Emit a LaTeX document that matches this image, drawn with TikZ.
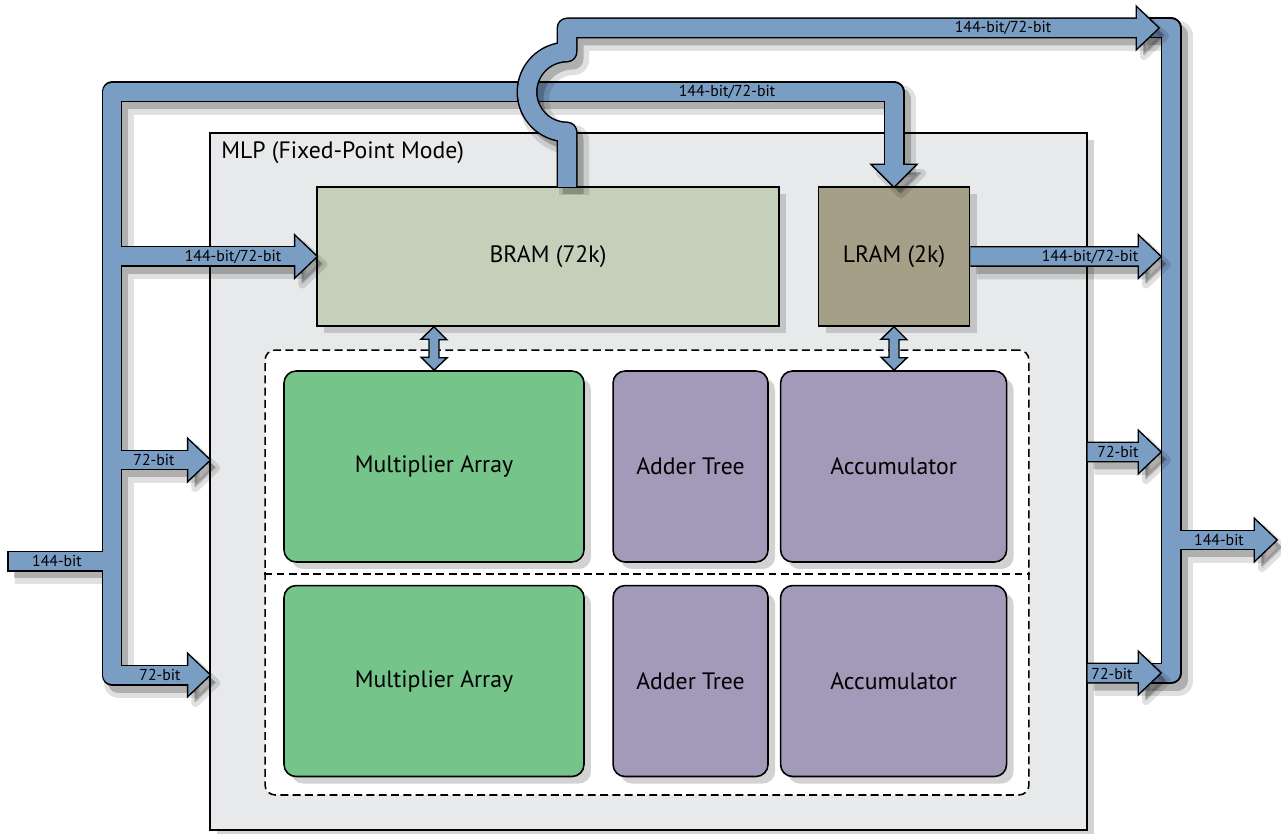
\documentclass[tikz,border=0pt]{standalone}
\usepackage{fontspec}
\setmainfont{PT Sans}
\usepackage{tikz}
\usetikzlibrary{calc, positioning, shadows}
\definecolor{busblue}{HTML}{7A9DC4}
\definecolor{mlpgray}{HTML}{E8E9EA}
\definecolor{bramgreen}{HTML}{C5D0BB}
\definecolor{lramtaupe}{HTML}{A59F87}
\definecolor{multgreen}{HTML}{75C489}
\definecolor{unitpurple}{HTML}{A39ABA}
\tikzset{
	font = \fontsize{13.5}{16}\selectfont,
	block/.style={
		draw,
		line width=.9pt,
		inner sep=0pt,
		drop shadow={shadow xshift=.14cm, shadow yshift=-.14cm, opacity=.35}
	},
	unit/.style={
		block,
		rounded corners=.24cm,
		minimum height=3.82cm
	},
	frame/.style={
		draw,
		dash pattern=on 4.5pt off 2.5pt,
		line width=.9pt,
		fill=white,
		rounded corners=.2cm
	},
	link/.style={
		draw,
		fill=busblue,
		line width=.8pt
	},
	pipe halo/.style={
		draw=black,
		opacity=.12,
		line width=.6cm,
		line join=round,
		transform canvas={xshift=.14cm, yshift=-.16cm}
	},
	pipe shadow/.style={
		draw=black,
		opacity=.22,
		line width=.42cm,
		line join=round,
		transform canvas={xshift=.12cm, yshift=-.14cm}
	},
	pipe edge/.style={
		draw=black,
		line width=.42cm,
		line join=round
	},
	pipe fill/.style={
		draw=busblue,
		line width=.36cm,
		line join=round
	},
	head halo/.style={
		fill=black,
		draw=black,
		line width=.16cm,
		line join=round,
		opacity=.12,
		transform canvas={xshift=.14cm, yshift=-.16cm}
	},
	head shadow/.style={
		fill=black,
		opacity=.22,
		transform canvas={xshift=.12cm, yshift=-.14cm}
	},
	head edge/.style={
		fill=black,
		draw=black,
		line width=.06cm
	},
	head fill/.style={
		fill=busblue
	},
	bus label/.style={
		font=\fontsize{9}{10}\selectfont,
		inner sep=0pt
	}
}

\begin{document}
\begin{tikzpicture}[x=.02cm, y=-.02cm]
	\useasboundingbox (0,0) rectangle (1281,834);
	\node[block, fill=mlpgray, minimum width=17.54cm, minimum height=13.94cm] at (648.5,481.5) (mlp) {};
	\node[anchor=west, inner sep=0pt] at (221,153) (mlptitle) {MLP (Fixed-Point Mode)};
	\node[block, fill=bramgreen, minimum width=9.24cm, minimum height=2.78cm] at (548,256.5) (bram) {BRAM (72k)};
	\node[block, fill=lramtaupe, minimum width=3.02cm, minimum height=2.78cm, right=.76cm of bram] (lram) {LRAM (2k)};
	\node[frame, minimum width=15.28cm, minimum height=8.9cm] at (647,572.5) (array) {};
	\node[unit, fill=multgreen, minimum width=6cm] at (434,466.5) (mult1) {Multiplier Array};
	\node[unit, fill=unitpurple, minimum width=3.1cm, right=.55cm of mult1] (add1) {Adder Tree};
	\node[unit, fill=unitpurple, minimum width=4.52cm, right=.22cm of add1] (acc1) {Accumulator};
	\node[unit, fill=multgreen, minimum width=6cm, below=.44cm of mult1] (mult2) {Multiplier Array};
	\node[unit, fill=unitpurple, minimum width=3.1cm, below=.44cm of add1] (add2) {Adder Tree};
	\node[unit, fill=unitpurple, minimum width=4.52cm, below=.44cm of acc1] (acc2) {Accumulator};
	\coordinate (split) at ($(mult1.south)!.5!(mult2.north)$);
	\draw[dash pattern=on 4.5pt off 2.5pt, line width=.9pt] (array.west |- split) -- (array.east |- split);
	\draw[link] (mult1.north |- bram.south) -- ++(13,13) -- ++(-8,0) -- ++(0,18) -- ++(8,0) -- (mult1.north)
		-- ++(-13,-13) -- ++(8,0) -- ++(0,-18) -- ++(-8,0) -- cycle;
	\draw[link] (lram.south) -- ++(13,13) -- ++(-8,0) -- ++(0,18) -- ++(8,0) -- (lram.south |- acc1.north)
		-- ++(-13,-13) -- ++(8,0) -- ++(0,-18) -- ++(-8,0) -- cycle;

	\coordinate (in) at (8,561);
	\coordinate (lbus top) at (112,92);
	\coordinate (lbus mid) at (112,460);
	\coordinate (lbus bot) at (112,675);
	\coordinate (hop) at (567,92);
	\coordinate (bram out) at (567,187);
	\coordinate (rbus top) at (1171,28);
	\coordinate (rbus bot) at (1171,673);
	\coordinate (out) at (1276,540);
	\coordinate (tip a) at (1158,28);
	\coordinate (tip b) at (1160,256.5);
	\coordinate (tip c) at (1160,452);
	\coordinate (tip d) at (1160,673);

	\foreach \pipestyle/\headstyle in {pipe halo/head halo, pipe shadow/head shadow, pipe edge/head edge, pipe fill/head fill} {
		\draw[\pipestyle] ($(mlp.west |- lbus bot)+(-19,0)$) -- (lbus bot) -- (lbus top) -- (lbus top -| lram.north) -- ($(lram.north)+(0,-19)$)
			(in) -- (lbus top |- in)
			(lbus top |- bram.west) -- ($(bram.west)+(-19,0)$)
			(lbus mid) -- ($(mlp.west |- lbus mid)+(-19,0)$);
		\path[\headstyle] (mlp.west |- lbus bot) -- ++(-21,-20) -- ++(0,40) -- cycle
			(mlp.west |- lbus mid) -- ++(-21,-20) -- ++(0,40) -- cycle
			(bram.west) -- ++(-21,-20) -- ++(0,40) -- cycle
			(lram.north) -- ++(-21,-21) -- ++(42,0) -- cycle;
	}
	\draw[line width=.03cm] ($(in)+(0,-10.5)$) -- ($(in)+(0,10.5)$);

	\foreach \pipestyle/\headstyle in {pipe halo/head halo, pipe shadow/head shadow, pipe edge/head edge, pipe fill/head fill} {
		\draw[\pipestyle] ($(rbus top)+(-30,0)$) -- (rbus top) -- (rbus bot) -- ++(-30,0)
			(rbus top |- out) -- ($(out)+(-19,0)$);
		\path[\headstyle] (out) -- ++(-21,-20) -- ++(0,40) -- cycle;
	}

	\foreach \pipestyle/\headstyle in {pipe halo/head halo, pipe shadow/head shadow, pipe edge/head edge, pipe fill/head fill} {
		\draw[\pipestyle] (bram out) -- ($(hop)+(0,40)$) arc[start angle=270, end angle=90, radius=.8cm] -- (bram out |- tip a) -- ($(tip a)+(-19,0)$)
			(lram.east) -- ($(tip b)+(-19,0)$)
			(mlp.east |- tip c) -- ($(tip c)+(-19,0)$)
			(mlp.east |- tip d) -- ($(tip d)+(-19,0)$);
		\path[\headstyle] (tip a) -- ++(-21,-20) -- ++(0,40) -- cycle
			(tip b) -- ++(-21,-20) -- ++(0,40) -- cycle
			(tip c) -- ++(-21,-20) -- ++(0,40) -- cycle
			(tip d) -- ++(-21,-20) -- ++(0,40) -- cycle;
	}

	\node[bus label] at (57,561) (in label) {144-bit};
	\node[bus label] at (233,257) (bram in label) {144-bit/72-bit};
	\node[bus label] at (154,460) (mid label) {72-bit};
	\node[bus label] at (160,675) (bot label) {72-bit};
	\node[bus label] at (727,92) (lram in label) {144-bit/72-bit};
	\node[bus label] at (1003,28) (top label) {144-bit/72-bit};
	\node[bus label] at (1090,257) (lram out label) {144-bit/72-bit};
	\node[bus label] at (1118,452) (c label) {72-bit};
	\node[bus label] at (1112,674) (d label) {72-bit};
	\node[bus label] at (1219,540) (out label) {144-bit};
\end{tikzpicture}
\end{document}
